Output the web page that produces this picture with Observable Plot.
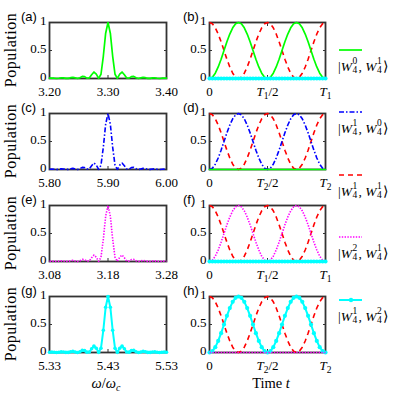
<!DOCTYPE html>
<html><head><meta charset="utf-8">
<script src="https://cdn.jsdelivr.net/npm/d3@7"></script>
<script src="https://cdn.jsdelivr.net/npm/@observablehq/plot@0.6"></script>
<style>
html,body{margin:0;padding:0;background:#fff;}
#fig{position:relative;width:399px;height:393px;overflow:hidden;background:#fff;font-family:"Liberation Serif","Times New Roman",serif;color:#000;}
#fig svg.plotpanel{position:absolute;}
#fig svg.plotpanel text{font-family:"Liberation Serif","Times New Roman",serif;}
.plab{position:absolute;font-family:"Liberation Sans",Arial,sans-serif;font-size:13px;line-height:1;}
.ylab{position:absolute;font-size:16px;line-height:1;letter-spacing:0.5px;transform:translate(-50%,-50%) rotate(-90deg);white-space:nowrap;}
.xlab{position:absolute;font-size:14.5px;line-height:1;transform:translate(-50%,-50%);white-space:nowrap;}
.ket{position:absolute;font-size:13.5px;line-height:1;white-space:nowrap;}
.ss{display:inline-block;position:relative;width:6.5px;height:13px;}
.ss span{position:absolute;left:0.5px;font-size:9.5px;line-height:1;font-style:normal;}
.ss .sp{top:-1px;} .ss .sb{top:8px;}
</style></head>
<body><div id="fig"></div>
<script>
// ---------------- data ----------------
const panelLetters = ["(a)","(b)","(c)","(d)","(e)","(f)","(g)","(h)"];

// detuning from resonance (units of omega_c), shared grid of the four spectra
const detuning = [-0.100,-0.096,-0.092,-0.088,-0.084,-0.080,-0.076,-0.072,-0.068,-0.064,
  -0.060,-0.056,-0.052,-0.048,-0.044,-0.040,-0.036,-0.032,-0.028,-0.024,
  -0.020,-0.016,-0.012,-0.008,-0.004,0.000,0.004,0.008,0.012,0.016,
  0.020,0.024,0.028,0.032,0.036,0.040,0.044,0.048,0.052,0.056,
  0.060,0.064,0.068,0.072,0.076,0.080,0.084,0.088,0.092,0.096,0.100];
// population vs detuning (same lineshape read in all four left panels)
const spectrum = [0.005,0.008,0.005,0.000,0.004,0.011,0.010,0.002,0.002,0.014,
  0.020,0.010,0.000,0.014,0.038,0.034,0.006,0.009,0.067,0.116,
  0.077,0.003,0.076,0.397,0.809,1.000,0.809,0.397,0.076,0.003,
  0.077,0.116,0.067,0.009,0.006,0.034,0.038,0.014,0.000,0.010,
  0.020,0.014,0.002,0.002,0.010,0.011,0.004,0.000,0.005,0.008,0.005];
const spectrumTicks = [-0.1, 0, 0.1];
const spectrumTickLabels = [
  ["3.20","3.30","3.40"],
  ["5.80","5.90","6.00"],
  ["3.08","3.18","3.28"],
  ["5.33","5.43","5.53"]];

// time as a fraction of the period T
const timeFrac = [0.000,0.025,0.050,0.075,0.100,0.125,0.150,0.175,0.200,0.225,
  0.250,0.275,0.300,0.325,0.350,0.375,0.400,0.425,0.450,0.475,
  0.500,0.525,0.550,0.575,0.600,0.625,0.650,0.675,0.700,0.725,
  0.750,0.775,0.800,0.825,0.850,0.875,0.900,0.925,0.950,0.975,1.000];
const popTarget = [0.000,0.024,0.095,0.206,0.345,0.500,0.655,0.794,0.905,0.976,
  1.000,0.976,0.905,0.794,0.655,0.500,0.345,0.206,0.095,0.024,
  0.000,0.024,0.095,0.206,0.345,0.500,0.655,0.794,0.905,0.976,
  1.000,0.976,0.905,0.794,0.655,0.500,0.345,0.206,0.095,0.024,0.000];
const popInitial = [1.000,0.976,0.905,0.794,0.655,0.500,0.345,0.206,0.095,0.024,
  0.000,0.024,0.095,0.206,0.345,0.500,0.655,0.794,0.905,0.976,
  1.000,0.976,0.905,0.794,0.655,0.500,0.345,0.206,0.095,0.024,
  0.000,0.024,0.095,0.206,0.345,0.500,0.655,0.794,0.905,0.976,1.000];
const popIdle = [0,0,0,0,0,0,0,0,0,0,0,0,0,0,0,0,0,0,0,0,0,
  0,0,0,0,0,0,0,0,0,0,0,0,0,0,0,0,0,0,0,0];
const timeTicks = [0, 0.5, 1];
const timeTickLabels = [["0","T1/2","T1"],["0","T2/2","T2"],["0","T1/2","T1"],["0","T2/2","T2"]];

const popTicks = [0, 0.5, 1];
const popTickLabels = ["0","0.5","1"];

// states: [superscript of first W, superscript of second W]
const legendStates = [["0","1"],["1","0"],["1","1"],["2","1"],["1","2"]];

// ---------------- styles / layout ----------------
const styles = {
  green:   {stroke:"#00ff00", strokeWidth:1.7},
  blue:    {stroke:"#0000ff", strokeWidth:1.6, strokeDasharray:"5,2,1.5,2", strokeLinecap:"butt"},
  red:     {stroke:"#ff0000", strokeWidth:1.6, strokeDasharray:"5,4", strokeLinecap:"butt"},
  magenta: {stroke:"#ff00ff", strokeWidth:1.6, strokeDasharray:"1.4,1.4", strokeLinecap:"butt"},
  cyan:    {stroke:"#00ffff", strokeWidth:2}
};
const legendStyles = ["green","blue","red","magenta","cyan"];
const spectrumStyles = ["green","blue","magenta","cyan"];
const targetStyles = ["green","blue","magenta","cyan"];
const idleStyles = ["cyan","green","cyan","magenta"];

const rowTops = [21.5, 112.5, 205.3, 296.2];
const frameH = 56;
const serif = '"Liberation Serif", "Times New Roman", serif';
const fig = document.getElementById("fig");

function seriesMarks(style, xs, ys, curve, r) {
  const m = [Plot.line(ys, {x: xs, y: ys, curve, ...styles[style]})];
  if (style === "cyan") m.push(Plot.dot(ys, {x: xs, y: ys, r: r, fill: "#00ffff"}));
  return m;
}

function addPanel({left, top, ml, innerW, mr, xDomain, xTicks, xLabels, marks}) {
  const mt = 8, mb = 26;
  const svg = Plot.plot({
    width: ml + innerW + mr, height: mt + frameH + mb,
    marginLeft: ml, marginRight: mr, marginTop: mt, marginBottom: mb,
    style: {background: "none", fontFamily: serif, fontSize: "13px", color: "#000", overflow: "visible"},
    x: {domain: xDomain, label: null},
    y: {domain: [0, 1], label: null},
    marks: [
      Plot.frame({stroke: "#333", strokeWidth: 1.8}),
      Plot.axisX({ticks: xTicks, anchor: "bottom", tickSize: -3, tickFormat: () => "", stroke: "#333", label: null}),
      Plot.axisX({ticks: xTicks, anchor: "top", tickSize: -3, tickFormat: () => "", stroke: "#333", label: null}),
      Plot.axisY({ticks: popTicks, anchor: "left", tickSize: -3, tickFormat: () => "", stroke: "#333", label: null}),
      Plot.axisY({ticks: popTicks, anchor: "right", tickSize: -3, tickFormat: () => "", stroke: "#333", label: null}),
      Plot.axisX({ticks: xTicks, anchor: "bottom", tickSize: 0, tickPadding: 8, tickFormat: d => xLabels[xTicks.indexOf(d)], label: null}),
      Plot.axisY({ticks: popTicks, anchor: "left", tickSize: 0, tickPadding: 3, dy: -1.5, tickFormat: d => popTickLabels[popTicks.indexOf(d)], label: null}),
      ...marks
    ]
  });
  svg.classList.add("plotpanel");
  svg.style.left = left + "px";
  svg.style.top = (top - mt) + "px";
  fig.appendChild(svg);
  return svg;
}

for (let r = 0; r < 4; r++) {
  const top = rowTops[r];
  // left: spectrum
  addPanel({
    left: 0, top, ml: 49, innerW: 117, mr: 20,
    xDomain: [-0.1, 0.1], xTicks: spectrumTicks, xLabels: spectrumTickLabels[r],
    marks: seriesMarks(spectrumStyles[r], detuning, spectrum, "linear", 1.8)
  });
  // right: Rabi oscillation
  const svg = addPanel({
    left: 179, top, ml: 30, innerW: 116, mr: 8,
    xDomain: [0, 1], xTicks: timeTicks, xLabels: timeTickLabels[r],
    marks: [
      ...seriesMarks("red", timeFrac, popInitial, "linear", 2),
      ...seriesMarks(targetStyles[r], timeFrac, popTarget, "linear", 2.1),
      ...seriesMarks(idleStyles[r], timeFrac, popIdle, "linear", 2.1)
    ]
  });
  d3.select(svg).selectAll('g[aria-label="x-axis tick label"] text').each(function () {
    const m = this.textContent.match(/^T(\d)(\/2)?$/);
    if (!m) return;
    this.textContent = "";
    const t = d3.select(this);
    t.append("tspan").attr("font-style", "italic").text("T");
    t.append("tspan").attr("font-size", "9.5").attr("dy", "3").text(m[1]);
    if (m[2]) t.append("tspan").attr("dy", "-3").text(m[2]);
  });

  // panel letters
  const la = document.createElement("div");
  la.className = "plab"; la.textContent = panelLetters[2 * r];
  la.style.left = "21px"; la.style.top = (top - 12) + "px";
  fig.appendChild(la);
  const lb = document.createElement("div");
  lb.className = "plab"; lb.textContent = panelLetters[2 * r + 1];
  lb.style.left = "183px"; lb.style.top = (top - 12) + "px";
  fig.appendChild(lb);

  // y label
  const yl = document.createElement("div");
  yl.className = "ylab"; yl.textContent = "Population";
  yl.style.left = "11px"; yl.style.top = (top + frameH / 2) + "px";
  fig.appendChild(yl);
}

// x labels
const xl1 = document.createElement("div");
xl1.className = "xlab";
xl1.innerHTML = '<i>ω</i>/<i>ω</i><span style="font-size:10px;position:relative;top:3px;"><i>c</i></span>';
xl1.style.left = "106px"; xl1.style.top = "382.5px";
fig.appendChild(xl1);
const xl2 = document.createElement("div");
xl2.className = "xlab";
xl2.innerHTML = 'Time <i>t</i>';
xl2.style.left = "271px"; xl2.style.top = "382.5px";
fig.appendChild(xl2);

// legend
const legendSampleY = [49.5, 111.7, 175, 237, 300];
legendStates.forEach((st, i) => {
  const st0 = styles[legendStyles[i]];
  const s = d3.create("svg").attr("width", 30).attr("height", 8)
    .style("position", "absolute").style("left", "337px").style("top", (legendSampleY[i] - 4) + "px");
  s.append("line").attr("x1", 2).attr("x2", 25).attr("y1", 4).attr("y2", 4)
    .attr("stroke", st0.stroke).attr("stroke-width", st0.strokeWidth)
    .attr("stroke-dasharray", st0.strokeDasharray || null);
  if (legendStyles[i] === "cyan") s.append("circle").attr("cx", 14).attr("cy", 4).attr("r", 2.2).attr("fill", "#00ffff");
  fig.appendChild(s.node());
  const k = document.createElement("div");
  k.className = "ket";
  k.innerHTML = '|<i>W</i><span class="ss"><span class="sp">' + st[0] + '</span><span class="sb">4</span></span>, <i>W</i><span class="ss"><span class="sp">' + st[1] + '</span><span class="sb">4</span></span>⟩';
  k.style.left = "338px"; k.style.top = (legendSampleY[i] + 8) + "px";
  fig.appendChild(k);
});
</script>
</body></html>
